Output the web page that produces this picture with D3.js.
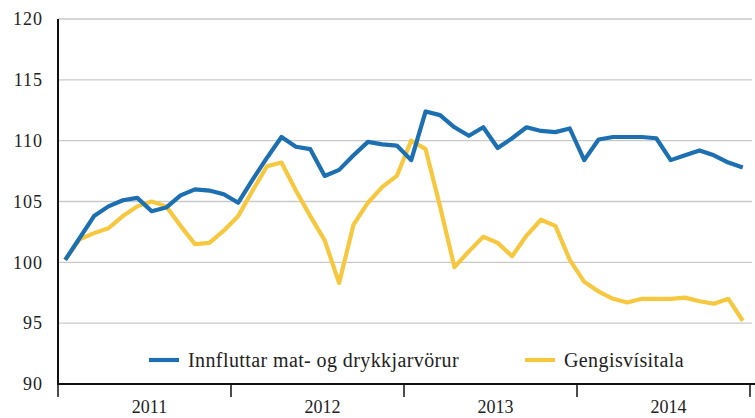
<!doctype html>
<html lang="en">
<head>
<meta charset="utf-8">
<title>Innfluttar mat- og drykkjarvörur</title>
<style>
  body { margin: 0; background: #fff; }
  svg text { font-family: "Liberation Serif", "DejaVu Serif", serif; fill: #222; }
</style>
</head>
<body>
<div id="chart"></div>
<script src="https://d3js.org/d3.v7.min.js"></script>
<script>
// monthly values, jan 2011 - dec 2014
var years = ["2011", "2012", "2013", "2014"];
var yTicks = [90, 95, 100, 105, 110, 115, 120];

var matvorur = [
  100.2, 102.0, 103.8, 104.6, 105.1, 105.3, 104.2, 104.5, 105.5, 106.0, 105.9, 105.6,
  104.9, 106.8, 108.6, 110.3, 109.5, 109.3, 107.1, 107.6, 108.8, 109.9, 109.7, 109.6,
  108.4, 112.4, 112.1, 111.1, 110.4, 111.1, 109.4, 110.2, 111.1, 110.8, 110.7, 111.0,
  108.4, 110.1, 110.3, 110.3, 110.3, 110.2, 108.4, 108.8, 109.2, 108.8, 108.2, 107.8
];
var gengi = [
  100.2, 101.9, 102.4, 102.8, 103.8, 104.6, 105.0, 104.6, 103.0, 101.5, 101.6, 102.6,
  103.8, 105.9, 107.9, 108.2, 105.9, 103.8, 101.8, 98.3, 103.1, 104.9, 106.2, 107.1,
  110.0, 109.3, 104.6, 99.6, 100.9, 102.1, 101.6, 100.5, 102.2, 103.5, 103.0, 100.2,
  98.4, 97.6, 97.0, 96.7, 97.0, 97.0, 97.0, 97.1, 96.8, 96.6, 97.0, 95.2
];

var seriesNames = ["Innfluttar mat- og drykkjarvörur", "Gengisvísitala"];
var colors = ["#1c6fb0", "#f6c840"];

var width = 755, height = 418;
var plotL = 58, plotR = 750, plotT = 19, plotB = 384;

var svg = d3.select("#chart").append("svg")
    .attr("width", width)
    .attr("height", height);

var x = d3.scaleLinear().domain([0, 48]).range([plotL, plotR]);
var y = d3.scaleLinear().domain([90, 120]).range([plotB, plotT]);

// gridlines
svg.append("g")
  .selectAll("line")
  .data(yTicks.slice(1))
  .enter().append("line")
    .attr("x1", plotL).attr("x2", 752)
    .attr("y1", function (d) { return y(d); })
    .attr("y2", function (d) { return y(d); })
    .attr("stroke", "#c9c9c9")
    .attr("stroke-width", 1.3);

// y labels
svg.append("g")
  .selectAll("text")
  .data(yTicks)
  .enter().append("text")
    .attr("x", 43)
    .attr("y", function (d) { return y(d); })
    .attr("dy", "0.35em")
    .attr("text-anchor", "end")
    .attr("font-size", 18)
    .attr("letter-spacing", 1)
    .text(function (d) { return d; });

// lines
var line = d3.line()
    .x(function (d, i) { return x(i + 0.5); })
    .y(function (d) { return y(d); });

[gengi, matvorur].forEach(function (s, k) {
  svg.append("path")
    .datum(s)
    .attr("fill", "none")
    .attr("stroke", colors[1 - k])
    .attr("stroke-width", 4.2)
    .attr("stroke-linejoin", "round")
    .attr("d", line);
});

// axes
svg.append("line")
  .attr("x1", plotL).attr("x2", plotL)
  .attr("y1", plotT).attr("y2", plotB)
  .attr("stroke", "#111").attr("stroke-width", 2);

svg.append("line")
  .attr("x1", plotL - 1).attr("x2", 755)
  .attr("y1", plotB).attr("y2", plotB)
  .attr("stroke", "#111").attr("stroke-width", 2);

svg.append("g")
  .selectAll("line")
  .data(d3.range(0, 49, 12))
  .enter().append("line")
    .attr("x1", function (d) { return x(d); })
    .attr("x2", function (d) { return x(d); })
    .attr("y1", plotB).attr("y2", plotB + 13)
    .attr("stroke", "#111").attr("stroke-width", 1.5);

svg.append("g")
  .selectAll("text")
  .data(years)
  .enter().append("text")
    .attr("x", function (d, i) { return x(i * 12 + 6) + 5; })
    .attr("y", 413)
    .attr("text-anchor", "middle")
    .attr("font-size", 18)
    .text(function (d) { return d; });

// legend
var legendX = [149, 525];
var lg = svg.append("g");
seriesNames.forEach(function (n, i) {
  lg.append("line")
    .attr("x1", legendX[i]).attr("x2", legendX[i] + 30)
    .attr("y1", 360).attr("y2", 360)
    .attr("stroke", colors[i]).attr("stroke-width", 4.2);
  lg.append("text")
    .attr("x", legendX[i] + 39)
    .attr("y", 360)
    .attr("dy", "0.35em")
    .attr("font-size", 20)
    .attr("letter-spacing", 0.4)
    .text(n);
});
</script>
</body>
</html>
